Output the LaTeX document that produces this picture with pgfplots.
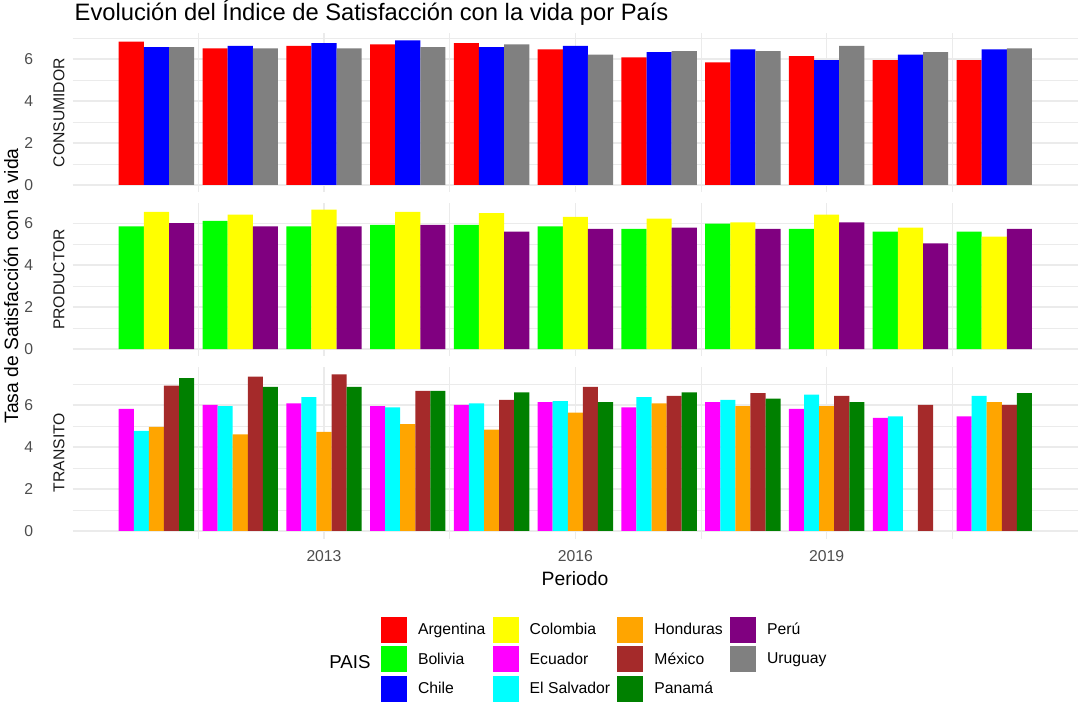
\documentclass[border=0pt]{standalone}
\usepackage{fontspec}
\setmainfont{Liberation Sans}
\usepackage{pgfplots}
\usepackage{pgfplotstable}
\pgfplotsset{compat=1.18}

\definecolor{gridc}{HTML}{EBEBEB}
\definecolor{tickc}{HTML}{4D4D4D}
\definecolor{stripc}{HTML}{1A1A1A}
\definecolor{cArg}{HTML}{FF0000}
\definecolor{cBol}{HTML}{00FF00}
\definecolor{cChi}{HTML}{0000FF}
\definecolor{cCol}{HTML}{FFFF00}
\definecolor{cEcu}{HTML}{FF00FF}
\definecolor{cSal}{HTML}{00FFFF}
\definecolor{cHon}{HTML}{FFA500}
\definecolor{cMex}{HTML}{A52A2A}
\definecolor{cPan}{HTML}{008000}
\definecolor{cPer}{HTML}{800080}
\definecolor{cUru}{HTML}{808080}

% Tasa de satisfaccion por sector
\pgfplotstableread{
year Argentina Chile Uruguay
2011 6.83 6.57 6.57
2012 6.51 6.63 6.51
2013 6.63 6.76 6.51
2014 6.70 6.89 6.57
2015 6.76 6.57 6.70
2016 6.46 6.63 6.21
2017 6.08 6.33 6.38
2018 5.84 6.46 6.38
2019 6.14 5.95 6.63
2020 5.95 6.21 6.33
2021 5.95 6.46 6.51
}\consumidor

\pgfplotstableread{
year Bolivia Colombia Peru
2011 5.85 6.54 6.00
2012 6.11 6.41 5.85
2013 5.85 6.65 5.85
2014 5.92 6.54 5.92
2015 5.92 6.48 5.60
2016 5.85 6.30 5.73
2017 5.73 6.22 5.79
2018 5.98 6.04 5.73
2019 5.73 6.41 6.04
2020 5.60 5.79 5.04
2021 5.60 5.36 5.73
}\productor

\pgfplotstableread{
year Ecuador ElSalvador Honduras Mexico Panama
2011 5.81 4.77 4.96 6.92 7.28
2012 6.00 5.94 4.60 7.35 6.86
2013 6.07 6.37 4.72 7.46 6.86
2014 5.94 5.88 5.09 6.67 6.67
2015 6.00 6.07 4.83 6.24 6.60
2016 6.13 6.18 5.64 6.86 6.13
2017 5.88 6.37 6.07 6.43 6.60
2018 6.13 6.24 5.94 6.56 6.30
2019 5.81 6.49 5.94 6.43 6.13
2020 5.39 5.45 nan 6.00 nan
2021 5.45 6.43 6.13 6.00 6.56
}\transito

\pgfplotsset{
  facet/.style={
    anchor=south west,
    scale only axis, width=754pt,
    xmin=2010, xmax=2022,
    axis x line*=bottom, axis y line*=left,
    axis line style={draw=none},
    tick style={draw=none},
    major tick length=0pt, minor tick length=0pt,
    xtick={2013,2016,2019},
    minor xtick={2011.5,2014.5,2017.5,2020.5},
    ytick={0,2,4,6}, minor ytick={1,3,5,7},
    grid=both,
    major grid style={draw=gridc, line width=1pt},
    minor grid style={draw=gridc, line width=0.55pt},
    /pgf/number format/assume math mode=true,
    /pgf/number format/1000 sep={},
    ticklabel style={font=\fontsize{11.8}{14}\selectfont, text=tickc, inner sep=0pt},
    yticklabel style={anchor=east, xshift=-29.4pt},
    xticklabel style={anchor=north, yshift=-8.5pt},
  },
  key/.style={legend image code/.code={\fill[##1, draw=none] (0pt,-9.75pt) rectangle (19.5pt,9.75pt);}},
}

\begin{document}
\begin{tikzpicture}
\path[use as bounding box] (0,0) rectangle (809.25pt,525.75pt);

% CONSUMIDOR
\begin{axis}[facet, at={(54.5pt,381.6pt)}, height=119.25pt,
  ymin=-0.345, ymax=7.23, xticklabels={}]
\addplot[ybar, bar width=0.3, bar shift=-0.3, fill=cArg, draw=none] table[x=year, y=Argentina] {\consumidor};
\addplot[ybar, bar width=0.3, bar shift=0,    fill=cChi, draw=none] table[x=year, y=Chile] {\consumidor};
\addplot[ybar, bar width=0.3, bar shift=0.3,  fill=cUru, draw=none] table[x=year, y=Uruguay] {\consumidor};
\end{axis}

% PRODUCTOR
\begin{axis}[facet, at={(54.5pt,258.7pt)}, height=115.1pt,
  ymin=-0.33, ymax=6.98, xticklabels={}]
\addplot[ybar, bar width=0.3, bar shift=-0.3, fill=cBol, draw=none] table[x=year, y=Bolivia] {\productor};
\addplot[ybar, bar width=0.3, bar shift=0,    fill=cCol, draw=none] table[x=year, y=Colombia] {\productor};
\addplot[ybar, bar width=0.3, bar shift=0.3,  fill=cPer, draw=none] table[x=year, y=Peru] {\productor};
\end{axis}

% TRANSITO
\begin{axis}[facet, at={(54.5pt,121.7pt)}, height=129.15pt,
  ymin=-0.373, ymax=7.83,
  legend columns=4,
  legend style={at={(axis description cs:0.3067,-0.4547)}, anchor=north west,
    draw=none, fill=none, inner sep=0pt, outer sep=0pt,
    font=\fontsize{11.8}{14}\selectfont, row sep=2.5pt,
    nodes={inner sep=0pt},
    /tikz/every odd column/.append style={column sep=8.25pt},
    /tikz/every even column/.append style={column sep=5.5pt}},
  legend cell align=left]
\addplot[ybar, bar width=0.18, bar shift=-0.36, fill=cEcu, draw=none, forget plot] table[x=year, y=Ecuador] {\transito};
\addplot[ybar, bar width=0.18, bar shift=-0.18, fill=cSal, draw=none, forget plot] table[x=year, y=ElSalvador] {\transito};
\addplot[ybar, bar width=0.18, bar shift=0,     fill=cHon, draw=none, forget plot] table[x=year, y=Honduras] {\transito};
\addplot[ybar, bar width=0.18, bar shift=0.18,  fill=cMex, draw=none, forget plot] table[x=year, y=Mexico] {\transito};
\addplot[ybar, bar width=0.18, bar shift=0.36,  fill=cPan, draw=none, forget plot] table[x=year, y=Panama] {\transito};
\addlegendimage{key, fill=cArg}\addlegendentry{Argentina}
\addlegendimage{key, fill=cCol}\addlegendentry{Colombia}
\addlegendimage{key, fill=cHon}\addlegendentry{Honduras}
\addlegendimage{key, fill=cPer}\addlegendentry{Perú}
\addlegendimage{key, fill=cBol}\addlegendentry{Bolivia}
\addlegendimage{key, fill=cEcu}\addlegendentry{Ecuador}
\addlegendimage{key, fill=cMex}\addlegendentry{México}
\addlegendimage{key, fill=cUru}\addlegendentry{Uruguay}
\addlegendimage{key, fill=cChi}\addlegendentry{Chile}
\addlegendimage{key, fill=cSal}\addlegendentry{El Salvador}
\addlegendimage{key, fill=cPan}\addlegendentry{Panamá}
\end{axis}

\node[anchor=base west, font=\fontsize{17.8}{20}\selectfont] at (52.5pt,510pt)
  {Evolución del Índice de Satisfacción con la vida por País};
\node[rotate=90, font=\fontsize{11.8}{14}\selectfont, text=stripc] at (44.25pt,441.2pt) {CONSUMIDOR};
\node[rotate=90, font=\fontsize{11.8}{14}\selectfont, text=stripc] at (44.25pt,316.2pt) {PRODUCTOR};
\node[rotate=90, font=\fontsize{11.8}{14}\selectfont, text=stripc] at (44.25pt,186.3pt) {TRANSITO};
\node[rotate=90, font=\fontsize{14.5}{17}\selectfont] at (8.25pt,311.25pt) {Tasa de Satisfacción con la vida};
\node[anchor=base, font=\fontsize{14.5}{17}\selectfont] at (431.25pt,87pt) {Periodo};
\node[font=\fontsize{14}{17}\selectfont] at (262.5pt,29.25pt) {PAIS};
\end{tikzpicture}
\end{document}
